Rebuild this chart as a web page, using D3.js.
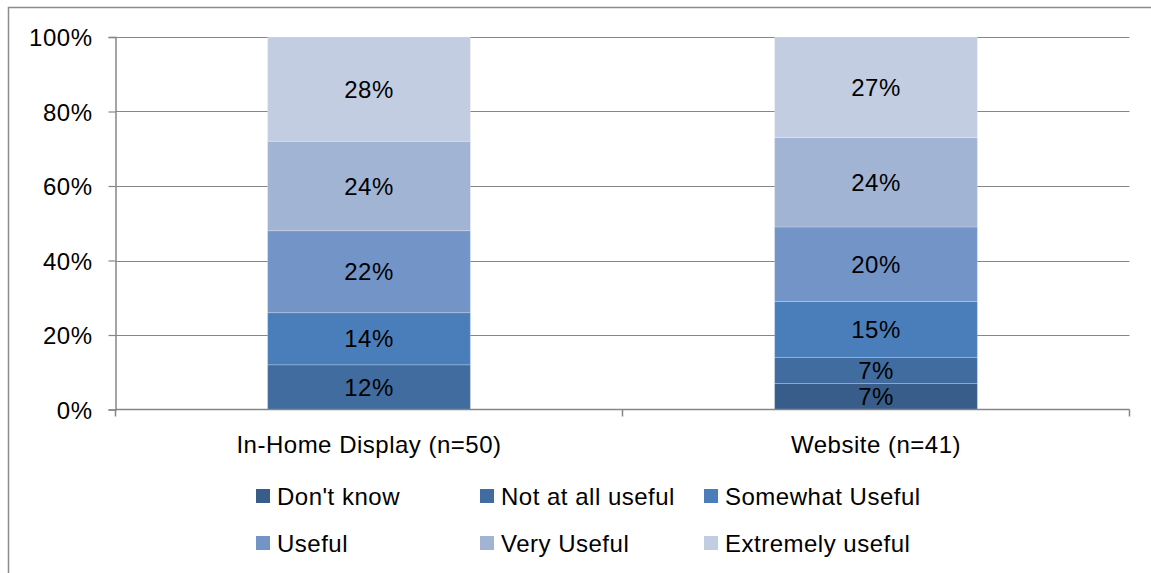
<!DOCTYPE html>
<html>
<head>
<meta charset="utf-8">
<script src="https://cdn.jsdelivr.net/npm/d3@7"></script>
<style>
  html, body { margin: 0; padding: 0; background: #fff; }
  svg { display: block; }
  text { font-family: "Liberation Sans", Arial, sans-serif; fill: #000; letter-spacing: 0.5px; }
</style>
</head>
<body>
<svg id="chart" width="1151" height="573"></svg>
<script>
// Usefulness ratings per channel (percent of respondents)
const categories = ["In-Home Display (n=50)", "Website (n=41)"];
const seriesNames = ["Don't know", "Not at all useful", "Somewhat Useful", "Useful", "Very Useful", "Extremely useful"];
const dontKnow       = [0, 7];
const notAtAllUseful = [12, 7];
const somewhatUseful = [14, 15];
const useful         = [22, 20];
const veryUseful     = [24, 24];
const extremelyUseful = [28, 27];
const yTicks = [0, 20, 40, 60, 80, 100];
const colors = ["#385d8a", "#416c9f", "#4a7ebb", "#7394c7", "#a1b4d4", "#c3cde2"];

const seriesValues = [dontKnow, notAtAllUseful, somewhatUseful, useful, veryUseful, extremelyUseful];
const rows = categories.map((c, i) => {
  const r = { category: c };
  seriesNames.forEach((s, k) => { r[s] = seriesValues[k][i]; });
  return r;
});

const svg = d3.select("#chart");
const fontSize = 24;

// Chart frame
svg.append("rect")
  .attr("x", 8.5).attr("y", 7.5)
  .attr("width", 1160).attr("height", 580)
  .attr("fill", "none").attr("stroke", "#8c8c8c").attr("stroke-width", 1.5);

const plot = { left: 115.5, right: 1129.5, top: 37, bottom: 409.5 };

const x = d3.scaleBand().domain(categories)
  .range([plot.left, plot.right])
  .paddingInner(0.6).paddingOuter(0.3);
const y = d3.scaleLinear().domain([0, 100]).range([plot.bottom, plot.top]);

// Gridlines
svg.append("g")
  .selectAll("line").data(yTicks.filter(t => t > 0)).join("line")
  .attr("x1", plot.left).attr("x2", plot.right)
  .attr("y1", d => Math.round(y(d)) + 0.5).attr("y2", d => Math.round(y(d)) + 0.5)
  .attr("stroke", "#868686").attr("stroke-width", 1.2);

// Stacked segments
const stack = d3.stack().keys(seriesNames)(rows);
const layers = svg.append("g").selectAll("g").data(stack).join("g")
  .attr("fill", (d, i) => colors[i]);
layers.selectAll("rect").data(d => d.filter(s => s[1] - s[0] > 0)).join("rect")
  .attr("x", d => x(d.data.category))
  .attr("width", x.bandwidth())
  .attr("y", d => y(d[1]))
  .attr("height", d => y(d[0]) - y(d[1]))
  .attr("stroke", "rgba(255,255,255,0.2)").attr("stroke-width", 1);

// Segment value labels
layers.selectAll("text").data(d => d.filter(s => s[1] - s[0] > 0)).join("text")
  .attr("x", d => x(d.data.category) + x.bandwidth() / 2)
  .attr("y", d => y((d[0] + d[1]) / 2))
  .attr("dy", "0.36em")
  .attr("text-anchor", "middle")
  .attr("font-size", fontSize)
  .text(d => (d[1] - d[0]) + "%");

// Y axis
const yAxis = svg.append("g")
  .attr("transform", `translate(${plot.left},0)`)
  .call(d3.axisLeft(y).tickValues(yTicks).tickFormat(d => d + "%").tickSize(7).tickPadding(16));
yAxis.select(".domain").attr("stroke", "#868686").attr("stroke-width", 1.5);
yAxis.selectAll(".tick line").attr("stroke", "#868686").attr("stroke-width", 1.2);
yAxis.selectAll(".tick text")
  .attr("font-size", fontSize).attr("font-family", "Liberation Sans, Arial, sans-serif")
  .attr("fill", "#000").attr("dy", "0.36em");

// X axis with boundary ticks between categories
const xAxisG = svg.append("g").attr("transform", `translate(0,${plot.bottom})`);
xAxisG.append("line")
  .attr("x1", plot.left).attr("x2", plot.right)
  .attr("stroke", "#868686").attr("stroke-width", 1.5);
const step = (plot.right - plot.left) / categories.length;
xAxisG.selectAll("line.tick").data(d3.range(categories.length + 1)).join("line")
  .attr("class", "tick")
  .attr("x1", i => plot.left + i * step).attr("x2", i => plot.left + i * step)
  .attr("y1", 0).attr("y2", 7)
  .attr("stroke", "#868686").attr("stroke-width", 1.5);
xAxisG.selectAll("text").data(categories).join("text")
  .attr("x", d => x(d) + x.bandwidth() / 2)
  .attr("y", 43)
  .attr("text-anchor", "middle")
  .attr("font-size", fontSize)
  .text(d => d);

// Legend: three columns, two rows
const legend = svg.append("g");
const items = legend.selectAll("g").data(seriesNames).join("g")
  .attr("transform", (d, i) => `translate(${256 + (i % 3) * 224},${496 + Math.floor(i / 3) * 47})`);
items.append("rect")
  .attr("x", 0).attr("y", -7).attr("width", 14).attr("height", 14)
  .attr("fill", (d, i) => colors[i]);
items.append("text")
  .attr("x", 21).attr("y", 0).attr("dy", "0.36em")
  .attr("font-size", fontSize)
  .text(d => d);
</script>
</body>
</html>
